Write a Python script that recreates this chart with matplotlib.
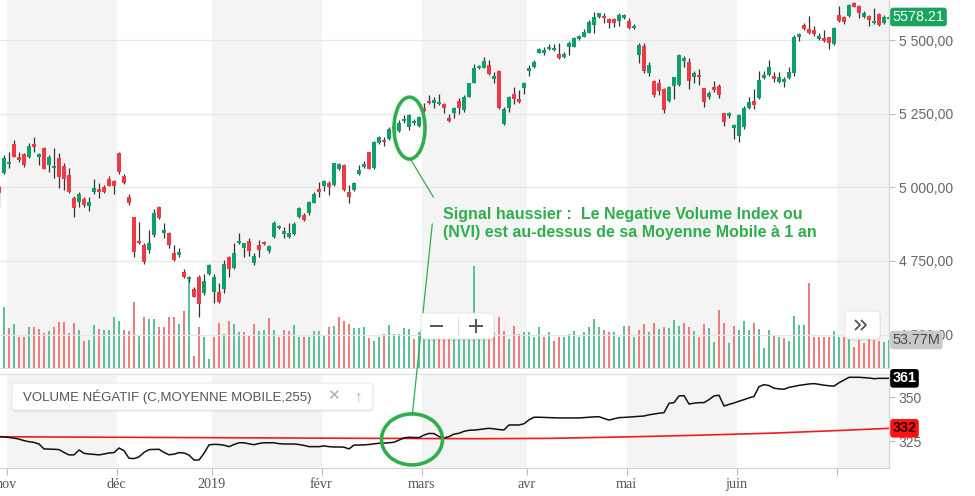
import numpy as np
import matplotlib
matplotlib.use("Agg")
import matplotlib.pyplot as plt
import matplotlib.transforms as mtransforms
from matplotlib.patches import Ellipse, FancyBboxPatch, ConnectionPatch
from matplotlib.lines import Line2D
from matplotlib.ticker import FuncFormatter

plt.rcParams['font.family'] = ['Liberation Sans', 'DejaVu Sans']

# ---------------- data ----------------
opens = [5002, 5047, 5078, 5147, 5104, 5113, 5102, 5147, 5104, 5135,
         5076, 5064, 5101, 5072, 5042, 4964, 4951, 4960, 4937, 4985,
         4994, 5002, 5029, 5021, 5115, 5038, 4968, 4898, 4819, 4804,
         4787, 4838, 4932, 4846, 4846, 4778, 4771, 4714, 4688, 4655,
         4695, 4640, 4706, 4646, 4646, 4654, 4765, 4725, 4810, 4793,
         4819, 4744, 4804, 4814, 4785, 4830, 4861, 4842, 4833, 4842,
         4898, 4906, 4912, 4948, 4994, 5004, 5014, 5008, 5061, 5076,
         4984, 4991, 5045, 5068, 5119, 5064, 5149, 5161, 5163, 5197,
         5192, 5224, 5204, 5217, 5209, 5268, 5293, 5287, 5282, 5282,
         5236, 5251, 5294, 5262, 5308, 5355, 5404, 5406, 5415, 5367,
         5396, 5215, 5268, 5317, 5301, 5336, 5396, 5410, 5457, 5455,
         5468, 5466, 5453, 5441, 5475, 5477, 5502, 5511, 5525, 5551,
         5579, 5582, 5570, 5570, 5566, 5574, 5565, 5540, 5449, 5480,
         5389, 5361, 5353, 5333, 5294, 5344, 5347, 5430, 5424, 5373,
         5381, 5336, 5305, 5339, 5344, 5251, 5242, 5200, 5174, 5206,
         5268, 5293, 5302, 5370, 5381, 5378, 5359, 5359, 5370, 5389,
         5509, 5551, 5536, 5534, 5502, 5508, 5509, 5486, 5585, 5577,
         5582, 5625, 5615, 5579, 5582, 5557, 5588, 5557, 5572]
highs = [5008, 5110, 5121, 5161, 5121, 5115, 5149, 5170, 5115, 5138,
         5110, 5132, 5115, 5081, 5064, 4971, 4985, 4966, 4966, 5027,
         5014, 5008, 5038, 5025, 5119, 5045, 4977, 4900, 4883, 4810,
         4855, 4925, 4937, 4878, 4850, 4804, 4793, 4722, 4700, 4663,
         4702, 4706, 4739, 4706, 4674, 4753, 4767, 4812, 4846, 4812,
         4827, 4776, 4821, 4818, 4805, 4887, 4871, 4864, 4878, 4883,
         4932, 4914, 4955, 4985, 5019, 5025, 5023, 5084, 5084, 5079,
         5008, 5019, 5076, 5090, 5121, 5157, 5174, 5172, 5204, 5215,
         5228, 5244, 5249, 5233, 5242, 5287, 5313, 5305, 5317, 5287,
         5249, 5274, 5302, 5313, 5355, 5419, 5415, 5441, 5432, 5393,
         5398, 5272, 5310, 5339, 5330, 5359, 5415, 5432, 5472, 5475,
         5486, 5486, 5491, 5460, 5498, 5509, 5517, 5536, 5568, 5596,
         5593, 5591, 5574, 5574, 5591, 5588, 5574, 5554, 5491, 5491,
         5426, 5364, 5368, 5336, 5344, 5376, 5453, 5446, 5438, 5396,
         5400, 5338, 5328, 5362, 5351, 5253, 5257, 5215, 5248, 5276,
         5305, 5333, 5396, 5396, 5432, 5393, 5393, 5373, 5409, 5517,
         5523, 5559, 5582, 5548, 5523, 5534, 5511, 5545, 5615, 5582,
         5621, 5630, 5619, 5600, 5585, 5608, 5591, 5585, 5585]
lows = [4932, 5045, 5064, 5102, 5087, 5068, 5100, 5121, 5076, 5061,
        5053, 5031, 4997, 4991, 4980, 4898, 4932, 4932, 4921, 4977,
        4963, 4982, 5004, 4977, 5045, 5011, 4940, 4765, 4808, 4740,
        4778, 4830, 4894, 4827, 4793, 4750, 4765, 4691, 4680, 4627,
        4561, 4635, 4702, 4609, 4609, 4640, 4697, 4722, 4808, 4765,
        4767, 4736, 4762, 4804, 4776, 4827, 4860, 4827, 4827, 4838,
        4895, 4887, 4905, 4946, 4968, 4989, 4974, 5006, 5059, 4989,
        4948, 4989, 5042, 5064, 5061, 5063, 5147, 5140, 5161, 5190,
        5189, 5219, 5195, 5212, 5206, 5257, 5283, 5268, 5279, 5253,
        5223, 5234, 5249, 5257, 5305, 5353, 5402, 5404, 5381, 5353,
        5265, 5212, 5257, 5283, 5287, 5317, 5378, 5404, 5455, 5449,
        5466, 5464, 5436, 5440, 5449, 5475, 5500, 5509, 5523, 5523,
        5574, 5559, 5540, 5543, 5548, 5570, 5537, 5536, 5421, 5389,
        5378, 5308, 5313, 5251, 5291, 5299, 5344, 5410, 5333, 5353,
        5347, 5272, 5299, 5325, 5302, 5208, 5234, 5163, 5155, 5197,
        5265, 5265, 5299, 5367, 5378, 5359, 5355, 5342, 5367, 5378,
        5498, 5534, 5520, 5514, 5500, 5494, 5468, 5483, 5562, 5554,
        5579, 5611, 5574, 5574, 5548, 5554, 5548, 5554, 5565]
closes = [4980, 5098, 5087, 5104, 5093, 5076, 5140, 5136, 5112, 5062,
          5104, 5072, 5036, 5028, 4985, 4929, 4977, 4940, 4951, 4998,
          4985, 4985, 5006, 5006, 5053, 5014, 4948, 4782, 4810, 4748,
          4812, 4912, 4896, 4855, 4804, 4753, 4780, 4697, 4697, 4629,
          4604, 4682, 4736, 4697, 4612, 4740, 4722, 4776, 4818, 4810,
          4785, 4767, 4787, 4806, 4801, 4880, 4869, 4852, 4844, 4876,
          4929, 4889, 4951, 4977, 4985, 5023, 5002, 5081, 5079, 4991,
          4966, 5014, 5059, 5079, 5063, 5155, 5172, 5154, 5197, 5205,
          5217, 5233, 5244, 5226, 5238, 5259, 5285, 5296, 5291, 5268,
          5226, 5268, 5268, 5308, 5353, 5404, 5412, 5429, 5385, 5378,
          5268, 5265, 5305, 5301, 5291, 5355, 5406, 5427, 5468, 5466,
          5477, 5474, 5438, 5451, 5489, 5506, 5514, 5528, 5562, 5579,
          5591, 5574, 5557, 5559, 5585, 5585, 5540, 5548, 5483, 5396,
          5415, 5313, 5328, 5262, 5339, 5373, 5449, 5438, 5361, 5389,
          5373, 5291, 5319, 5330, 5313, 5223, 5251, 5212, 5246, 5268,
          5291, 5279, 5364, 5381, 5409, 5367, 5373, 5368, 5393, 5511,
          5519, 5536, 5523, 5519, 5514, 5498, 5489, 5542, 5566, 5562,
          5619, 5613, 5593, 5591, 5568, 5566, 5551, 5577, 5578.21]
volumes_m = [70, 117.7, 76.2, 84.5, 58.9, 58.9, 78.1, 78.1, 74.9, 66.6,
             70.5, 78.1, 88.9, 88.9, 66.6, 85.8, 73.0, 52.4, 53.8, 83.1,
             74.9, 73.0, 73.0, 97.3, 90.8, 73.0, 70.5, 126.1, 63.9, 97.3,
             94.1, 94.1, 79.3, 79.3, 97.3, 98.5, 84.5, 110.0, 172.8, 23.0,
             78.7, 59.5, 17.3, 58.9, 85.8, 65.3, 89.7, 84.5, 68.5, 68.5,
             62.0, 84.5, 71.6, 73.0, 96.0, 73.0, 58.9, 73.0, 71.6, 83.1,
             58.9, 58.9, 60.1, 70.5, 71.6, 62.0, 78.1, 81.2, 98.5, 90.8,
             84.5, 76.8, 76.8, 79.3, 57.6, 52.4, 60.1, 65.3, 83.1, 65.3,
             65.3, 76.8, 74.9, 55.7, 70, 66, 72, 64, 75, 68,
             71, 67, 74, 69, 70, 195.8, 73, 67, 63, 69,
             98.5, 70.5, 55.7, 81.2, 65.3, 68.5, 68.5, 58.9, 78.1, 60.1,
             68.5, 51.3, 60.1, 60.1, 65.3, 71.6, 58.9, 68.5, 78.1, 94.1,
             78.1, 73.0, 68.5, 68.5, 58.9, 81.2, 81.2, 58.9, 73.0, 84.5,
             68.5, 85.8, 74.9, 78.1, 76.8, 92.2, 81.2, 85.8, 78.1, 70.5,
             60.1, 84.5, 76.8, 49.3, 111.4, 85.8, 47.4, 81.2, 73.0, 90.8,
             73.0, 85.8, 74.9, 38.4, 73.0, 62.0, 60.1, 57.6, 52.4, 100.4,
             83.1, 83.1, 163.2, 60.1, 60.1, 60.1, 58.9, 70.5, 60.1, 58.9,
             55.7, 39.7, 53.8, 47.4, 55.7, 53.8, 51.3, 49.3, 53.77]
nvi = [327.5, 327.3, 327.0, 326.6, 326.1, 325.2, 324.6, 324.2, 323.3, 320.5,
       320.4, 320.3, 320.1, 318.5, 317.1, 317.1, 319.9, 318.0, 317.6, 317.4,
       317.1, 317.6, 318.2, 318.4, 321.0, 319.5, 315.2, 315.0, 316.0, 318.5,
       320.1, 320.2, 320.3, 318.5, 317.2, 317.5, 318.4, 318.2, 317.0, 314.2,
       314.2, 318.0, 322.8, 323.1, 323.0, 322.6, 321.8, 323.0, 324.0, 324.0,
       323.4, 322.9, 323.6, 324.0, 324.0, 324.0, 323.5, 323.3, 323.3, 323.3,
       323.0, 322.5, 321.8, 321.8, 321.8, 322.2, 321.8, 321.6, 321.6, 321.5,
       320.5, 322.7, 322.7, 322.8, 323.0, 323.4, 323.7, 323.8, 324.0, 324.3,
       325.5, 326.8, 327.1, 327.0, 326.9, 328.4, 329.3, 329.2, 327.5, 326.7,
       327.5, 328.9, 329.4, 330.5, 331.1, 331.2, 331.5, 331.9, 332.2, 331.9,
       331.5, 331.3, 334.1, 334.1, 334.1, 334.8, 337.0, 338.5, 338.5, 338.4,
       338.3, 338.2, 338.1, 338.1, 338.1, 338.1, 338.1, 338.3, 338.5, 338.7,
       338.8, 337.8, 336.9, 337.6, 338.3, 338.4, 338.6, 338.8, 339.0, 339.2,
       339.9, 340.3, 340.8, 341.1, 346.4, 346.8, 350.6, 350.8, 346.0, 346.5,
       346.8, 346.8, 348.5, 350.6, 351.0, 344.9, 345.8, 346.6, 347.6, 348.5,
       349.5, 350.3, 355.9, 357.0, 356.5, 355.0, 354.6, 354.4, 355.5, 356.0,
       356.6, 357.0, 357.4, 357.6, 357.2, 356.7, 356.4, 356.2, 358.1, 359.6,
       361.2, 361.2, 361.2, 361.0, 360.8, 360.4, 360.6, 360.6, 360.6]
nvi_ma_bar = [0, 25, 50, 75, 96, 110, 125, 140, 155, 170, 178]
nvi_ma = [327.4, 327.1, 326.8, 326.5, 326.3, 326.5, 327.3, 328.3, 329.5, 331.2, 332.2]

month_labels = ['nov', 'déc', '2019', 'févr', 'mars', 'avr', 'mai', 'juin', '']
month_first_bar = [2, 24, 43, 65, 85, 106, 126, 148, 168]
price_ticks = [4500, 4750, 5000, 5250, 5500]
nvi_ticks = [325, 350]
legend_label = 'VOLUME NÉGATIF (C,MOYENNE MOBILE,255)'
note_lines = ['Signal haussier :  Le Negative Volume Index ou',
              '(NVI) est au-dessus de sa Moyenne Mobile à 1 an']

# ---------------- layout ----------------
W, H = 975, 496
fig = plt.figure(figsize=(W / 100, H / 100), dpi=100)
fig.patch.set_facecolor('white')


def fx(px):
    return px / W


def fy(py):
    return 1 - py / H


def ip(px, py):
    return (px / 100, (H - py) / 100)


PLOT_R = 889
main_rect = [0, fy(368), fx(PLOT_R), 368 / H]
nvi_rect = [0, fy(468), fx(PLOT_R), 94 / H]

ax_vol = fig.add_axes(main_rect, zorder=0)
ax = fig.add_axes(main_rect, zorder=1)
ax.patch.set_visible(False)
ax_nvi = fig.add_axes(nvi_rect, zorder=0)

XLIM = (0.2, 178.0)
opens = np.array(opens, float)
highs = np.array(highs, float)
lows = np.array(lows, float)
closes = np.array(closes, float)
volumes_m = np.array(volumes_m, float)
n = len(closes)
xs = np.arange(n)

GREEN = '#0f9f6a'
RED = '#ee3a44'
BAND = '#f4f4f4'
GRID = '#e7e7e7'
SPINE = '#d2d2d2'
TXT = '#666666'
NOTE = '#2fae4c'

# month bands
for i in range(0, len(month_first_bar), 2):
    left = month_first_bar[i] - 0.5
    right = month_first_bar[i + 1] - 0.5 if i + 1 < len(month_first_bar) else XLIM[1] + 2
    for a in (ax_vol, ax_nvi):
        a.axvspan(left, right, color=BAND, lw=0, zorder=0)

# volume
prev_close = np.concatenate([[opens[0]], closes[:-1]])
vol_up = closes >= prev_close
ax_vol.bar(xs, volumes_m, width=0.3, color=np.where(vol_up, '#5cc199', '#ee7d7d'),
           lw=0, zorder=2)
ax_vol.set_ylim(0, 368 * 1.92)
ax_vol.set_xlim(*XLIM)
ax_vol.axis('off')

# price gridlines and candles
for t in price_ticks:
    ax.axhline(t, color=GRID, lw=0.9, zorder=0.5)
up = closes >= opens
ax.vlines(xs, lows, highs, color='#333333', lw=0.9, zorder=2)
ax.bar(xs, np.maximum(np.abs(closes - opens), 3.4), bottom=np.minimum(opens, closes),
       width=0.66, color=np.where(up, GREEN, RED), lw=0, zorder=3)
ax.set_xlim(*XLIM)
ax.set_ylim(4386.8, 5635.8)
ax.set_xticks([])
ax.yaxis.tick_right()
ax.set_yticks(price_ticks)
ax.yaxis.set_major_formatter(FuncFormatter(
    lambda v, p: f"{v:,.2f}".replace(',', ' ').replace('.', ',')))
ax.tick_params(axis='y', length=4, color='#bbbbbb', labelcolor=TXT, labelsize=10, pad=3)
for s in ('top', 'left'):
    ax.spines[s].set_visible(False)
ax.spines['right'].set_color(SPINE)
ax.spines['bottom'].set_color('#dddddd')

# NVI panel
ax_nvi.plot(xs, nvi, color='#111111', lw=1.1, zorder=3)
ax_nvi.plot(nvi_ma_bar, nvi_ma, color='#ee1c1c', lw=1.2, zorder=2)
ax_nvi.set_xlim(*XLIM)
ax_nvi.set_ylim(309.66, 363.07)
ax_nvi.yaxis.tick_right()
ax_nvi.set_yticks(nvi_ticks)
ax_nvi.set_yticklabels([str(t) for t in nvi_ticks])
ax_nvi.tick_params(axis='y', length=4, color='#bbbbbb', labelcolor=TXT, labelsize=10, pad=3)
ax_nvi.set_xticks([b - 0.5 for b in month_first_bar])
ax_nvi.set_xticklabels(month_labels)
ax_nvi.tick_params(axis='x', length=5, color='#bbbbbb', labelcolor='#555555',
                   labelsize=10.2, pad=2.5)
for lbl in ax_nvi.get_xticklabels():
    lbl.set_fontfamily(['Liberation Serif', 'DejaVu Serif'])
ax_nvi.spines['left'].set_visible(False)
ax_nvi.spines['top'].set_color('#dddddd')
ax_nvi.spines['right'].set_color(SPINE)
ax_nvi.spines['bottom'].set_color(SPINE)

# right-side value boxes
def side_label(yaxis_ax, yval, text, fc, tc, weight='normal'):
    tr = mtransforms.blended_transform_factory(ax.transAxes, yaxis_ax.transData)
    tr = tr + mtransforms.ScaledTranslation(3.5 / 100, 0, fig.dpi_scale_trans)
    fig.text(1.0, yval, text, transform=tr, ha='left', va='center', color=tc,
             fontsize=10.4, fontweight=weight, zorder=6,
             bbox=dict(boxstyle='round,pad=0.16,rounding_size=0.2', fc=fc, ec='none'))


side_label(ax, closes[-1], f"{closes[-1]:.2f}", '#17a45c', 'white')
side_label(ax_vol, volumes_m[-1], f"{volumes_m[-1]:.2f}M", '#c9c9c9', '#4a4a4a')
side_label(ax_nvi, nvi[-1], f"{nvi[-1]:.0f}", '#000000', 'white', 'bold')
side_label(ax_nvi, nvi_ma[-1], f"{nvi_ma[-1]:.0f}", '#ff1111', '#2a0000', 'bold')


# UI boxes
def ui_box(x0, y0, x1, y1, ec='#e4e4e4'):
    sh = FancyBboxPatch(ip(x0 + 1, y1 + 2), (x1 - x0) / 100, (y1 - y0) / 100,
                        boxstyle='round,pad=0,rounding_size=0.04',
                        transform=fig.dpi_scale_trans, fc='#000000', alpha=0.06,
                        ec='none', zorder=7)
    bx = FancyBboxPatch(ip(x0, y1), (x1 - x0) / 100, (y1 - y0) / 100,
                        boxstyle='round,pad=0,rounding_size=0.04',
                        transform=fig.dpi_scale_trans, fc='white', ec=ec, lw=0.6,
                        zorder=7.5)
    fig.add_artist(sh)
    fig.add_artist(bx)


def ui_line(xs_px, ys_px, color='#555555', lw=1.4, z=8):
    fig.add_artist(Line2D([v / 100 for v in xs_px], [(H - v) / 100 for v in ys_px],
                          transform=fig.dpi_scale_trans, color=color, lw=lw, zorder=z,
                          solid_capstyle='butt'))


# legend of the indicator
ui_box(12, 383, 373, 410)
fig.text(*ip(23, 396.5), legend_label, transform=fig.dpi_scale_trans, ha='left',
         va='center', fontsize=9.5, color='#555555', zorder=9)
fig.text(*ip(333, 396.5), '✕', transform=fig.dpi_scale_trans, ha='center',
         va='center', fontsize=11, color='#aaaaaa', zorder=9)
fig.text(*ip(359, 396.5), '↑', transform=fig.dpi_scale_trans, ha='center',
         va='center', fontsize=11, color='#aaaaaa', zorder=9)

# zoom buttons
ui_box(421, 313, 494, 339)
ui_line([430, 443], [326, 326])
ui_line([469, 483], [326, 326])
ui_line([476, 476], [319, 333])
ui_line([458, 458], [317, 335], color='#dddddd', lw=0.8)

# scroll button
ui_box(845, 311, 880, 339)
ui_line([855, 860, 855], [320, 325, 330], lw=1.3)
ui_line([861, 866, 861], [320, 325, 330], lw=1.3)

# ---------------- annotation ----------------
ax.add_patch(Ellipse((82.1, 5201), 6.2, 210, fill=False, ec=NOTE, lw=2.6,
                     zorder=6, clip_on=False))
ax_nvi.add_patch(Ellipse((82.6, 325.9), 12.2, 29.0, fill=False, ec=NOTE, lw=2.6,
                         zorder=6, clip_on=False))
ax.plot([82.4, 86.86], [5092.8, 4967.2], color=NOTE, lw=0.9, zorder=6)
con = ConnectionPatch(xyA=(86.66, 4875.5), coordsA=ax.transData,
                      xyB=(82.66, 339.8), coordsB=ax_nvi.transData,
                      color=NOTE, lw=0.9, zorder=6.5)
fig.add_artist(con)
for i, line in enumerate(note_lines):
    fig.text(*ip(443, 218.5 + 18 * i), line, transform=fig.dpi_scale_trans,
             ha='left', va='baseline', fontsize=11.5, fontweight='bold',
             color=NOTE, zorder=9)

fig.savefig('out.png', dpi=100, facecolor='white')
